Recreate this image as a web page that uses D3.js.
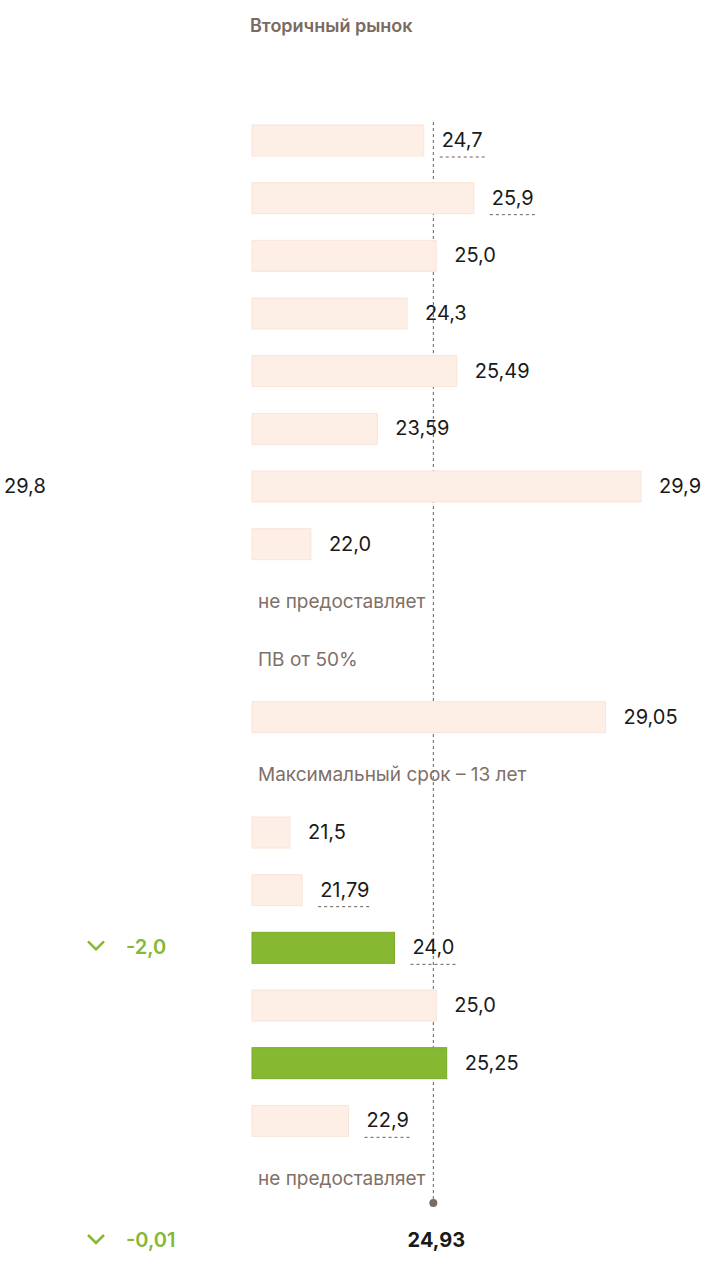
<!DOCTYPE html><html><head><meta charset="utf-8"><script src="https://cdn.jsdelivr.net/npm/d3@7"></script>
<style>body{margin:0;background:#fff}</style></head><body><svg id="c" width="720" height="1280"></svg><script>
const values=[24.7,25.9,25.0,24.3,25.49,23.59,29.9,22.0,null,null,29.05,null,21.5,21.79,24.0,25.0,25.25,22.9,null];
const labels=["24,7","25,9","25,0","24,3","25,49","23,59","29,9","22,0","не предоставляет","ПВ от 50%","29,05","Максимальный срок – 13 лет","21,5","21,79","24,0","25,0","25,25","22,9","не предоставляет"];
const underlined=[1,1,0,0,0,0,0,0,0,0,0,0,0,1,1,0,0,1,0];
const highlighted=[0,0,0,0,0,0,0,0,0,0,0,0,0,0,1,0,1,0,0];
const leftNotes=[null,null,null,null,null,null,"29,8",null,null,null,null,null,null,null,"-2,0",null,null,null,null];
const average=24.93, averageLabel="24,93", averageChange="-0,01";
const title="Вторичный рынок";
const svg=d3.select("#c");
const x=d3.scaleLinear().domain([20.59,29.9]).range([252,641]);
const y=d3.scaleLinear().domain([0,18]).range([140,1178]);
const F="Inter, 'Noto Sans', sans-serif";
svg.append("text").attr("x",250).attr("y",32).text(title).attr("font-family",F).attr("font-size",18).attr("font-weight",600).attr("fill","#7a6a60");
const ax=x(average);
svg.append("line").attr("x1",ax).attr("x2",ax).attr("y1",122).attr("y2",1200).attr("stroke","#6b5e55").attr("stroke-dasharray","3,3");
svg.append("circle").attr("cx",ax).attr("cy",1203).attr("r",4).attr("fill","#7a6a60");
values.forEach((v,i)=>{
 const cy=y(i);
 if(v==null){svg.append("text").attr("x",258).attr("y",cy+7).text(labels[i]).attr("font-family",F).attr("font-size",19).attr("fill","#7f7068");return;}
 const g=highlighted[i];
 svg.append("rect").attr("x",x.range()[0]).attr("y",cy-15).attr("width",x(v)-x.range()[0]).attr("height",31)
  .attr("fill",g?"#86b832":"#fdefe6").attr("stroke",g?"#7aa82c":"#f9e4d8").attr("stroke-width",1);
 const tx=x(v)+18;
 const t=svg.append("text").attr("x",tx).attr("y",cy+7).text(labels[i]).attr("font-family",F).attr("font-size",20).attr("fill","#1a1a1a");
 if(underlined[i]){const w=t.node().getComputedTextLength();svg.append("line").attr("x1",tx-2).attr("x2",tx+w+2).attr("y1",cy+17).attr("y2",cy+17).attr("stroke","#6b5e55").attr("stroke-dasharray","3,3");}
 const ln=leftNotes[i];
 if(ln){
  if(ln.startsWith("-")){
   svg.append("path").attr("d",`M88,${cy-6} L96,${cy+2} L104,${cy-6}`).attr("fill","none").attr("stroke","#86b832").attr("stroke-width",2.5);
   svg.append("text").attr("x",126).attr("y",cy+7).text(ln).attr("font-family",F).attr("font-size",20).attr("font-weight",600).attr("fill","#86b832");
  } else svg.append("text").attr("x",4).attr("y",cy+7).text(ln).attr("font-family",F).attr("font-size",20).attr("fill","#1a1a1a");
 }
});
const ty=1247;
svg.append("path").attr("d",`M88,${ty-12} L96,${ty-4} L104,${ty-12}`).attr("fill","none").attr("stroke","#86b832").attr("stroke-width",2.5);
svg.append("text").attr("x",126).attr("y",ty).text(averageChange).attr("font-family",F).attr("font-size",20).attr("font-weight",600).attr("fill","#86b832");
svg.append("text").attr("x",ax+3).attr("y",ty).attr("text-anchor","middle").text(averageLabel).attr("font-family",F).attr("font-size",20).attr("font-weight",700).attr("fill","#1a1a1a");
</script></body></html>
